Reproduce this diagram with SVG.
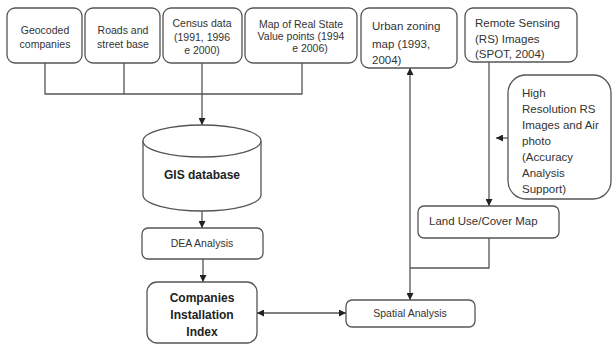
<svg xmlns="http://www.w3.org/2000/svg" width="612" height="347" viewBox="0 0 612 347">
  <style>
    .box { fill: #ffffff; stroke: #555555; stroke-width: 1.3; }
    .wire { fill: none; stroke: #555555; stroke-width: 1.3; }
    text { font-family: "Liberation Sans", Arial, sans-serif; font-size: 10.5px; fill: #333333; }
    .c { text-anchor: middle; }
    .lg { font-size: 11.5px; }
    .b { font-weight: bold; font-size: 12px; fill: #222222; }
  </style>
  <defs>
    <marker id="arr" viewBox="0 0 8 8" refX="8" refY="4" markerWidth="7" markerHeight="7" markerUnits="userSpaceOnUse" orient="auto-start-reverse">
      <path d="M0,0 L8,4 L0,8 z" fill="#222222"/>
    </marker>
  </defs>
  <rect width="612" height="347" fill="#ffffff"/>

  <!-- connectors -->
  <g id="connectors">
    <!-- sources merged into the database -->
    <path class="wire" d="M45,63 V94 H302 V63 M124,63 V94"/>
    <path class="wire" d="M202,63 V125" marker-end="url(#arr)"/>
    <!-- database to DEA -->
    <path class="wire" d="M202,211 V228" marker-end="url(#arr)"/>
    <!-- DEA to index -->
    <path class="wire" d="M203,259 V282" marker-end="url(#arr)"/>
    <!-- index <-> spatial analysis -->
    <path class="wire" d="M257,313 H346" marker-start="url(#arr)" marker-end="url(#arr)"/>
    <!-- zoning map <-> spatial analysis -->
    <path class="wire" d="M410,300 V68" marker-start="url(#arr)" marker-end="url(#arr)"/>
    <!-- land use map into the spatial line -->
    <path class="wire" d="M489,238 V268 H410"/>
    <!-- RS images to land use map -->
    <path class="wire" d="M489,62 V206" marker-end="url(#arr)"/>
    <!-- high resolution support -->
    <path class="wire" d="M508,138 H496" marker-end="url(#arr)"/>
  </g>

  <g id="geocoded">
    <rect class="box" x="7" y="8" width="75" height="55" rx="8"/>
    <text class="c" x="45" y="34">Geocoded</text>
    <text class="c" x="45" y="48">companies</text>
  </g>
  <g id="roads">
    <rect class="box" x="85" y="8" width="75" height="55" rx="8"/>
    <text class="c" x="123" y="34">Roads and</text>
    <text class="c" x="123" y="48">street base</text>
  </g>
  <g id="census">
    <rect class="box" x="163" y="8" width="79" height="55" rx="8"/>
    <text class="c" x="202" y="27">Census data</text>
    <text class="c" x="202" y="41">(1991, 1996</text>
    <text class="c" x="202" y="54">e 2000)</text>
  </g>
  <g id="realstate">
    <rect class="box" x="245" y="8" width="112" height="55" rx="8"/>
    <text class="c" x="301" y="28">Map of Real State</text>
    <text class="c" x="301" y="40">Value points (1994</text>
    <text class="c" x="310" y="52">e 2006)</text>
  </g>
  <g id="zoning">
    <rect class="box" x="361" y="8" width="96" height="60" rx="8"/>
    <text class="lg" x="372" y="30">Urban zoning</text>
    <text class="lg" x="372" y="48">map (1993,</text>
    <text class="lg" x="372" y="64">2004)</text>
  </g>
  <g id="remote">
    <rect class="box" x="465" y="8" width="112" height="54" rx="8"/>
    <text class="lg" x="475" y="27">Remote Sensing</text>
    <text class="lg" x="475" y="43">(RS) Images</text>
    <text class="lg" x="475" y="58">(SPOT, 2004)</text>
  </g>
  <g id="highres">
    <rect class="box" x="508" y="75" width="103" height="124" rx="18"/>
    <text class="lg" x="522" y="97">High</text>
    <text class="lg" x="522" y="113">Resolution RS</text>
    <text class="lg" x="522" y="129">Images and Air</text>
    <text class="lg" x="522" y="145">photo</text>
    <text class="lg" x="522" y="161">(Accuracy</text>
    <text class="lg" x="522" y="177">Analysis</text>
    <text class="lg" x="522" y="193">Support)</text>
  </g>
  <g id="gisdb">
    <path class="box" d="M143,141 V195 A59,16 0 0 0 261,195 V141"/>
    <ellipse class="box" cx="202" cy="141" rx="59" ry="16"/>
    <text class="c b" x="202" y="179">GIS database</text>
  </g>
  <g id="dea">
    <rect class="box" x="142" y="228" width="121" height="31" rx="6"/>
    <text class="c" x="202" y="247">DEA Analysis</text>
  </g>
  <g id="index">
    <rect class="box" x="147" y="282" width="110" height="61" rx="10"/>
    <text class="c b" x="202" y="302">Companies</text>
    <text class="c b" x="202" y="319">Installation</text>
    <text class="c b" x="202" y="336">Index</text>
  </g>
  <g id="landuse">
    <rect class="box" x="418" y="206" width="141" height="32" rx="6"/>
    <text class="lg" x="429" y="225">Land Use/Cover Map</text>
  </g>
  <g id="spatial">
    <rect class="box" x="346" y="300" width="129" height="27" rx="6"/>
    <text class="c" x="410" y="317">Spatial Analysis</text>
  </g>
</svg>
